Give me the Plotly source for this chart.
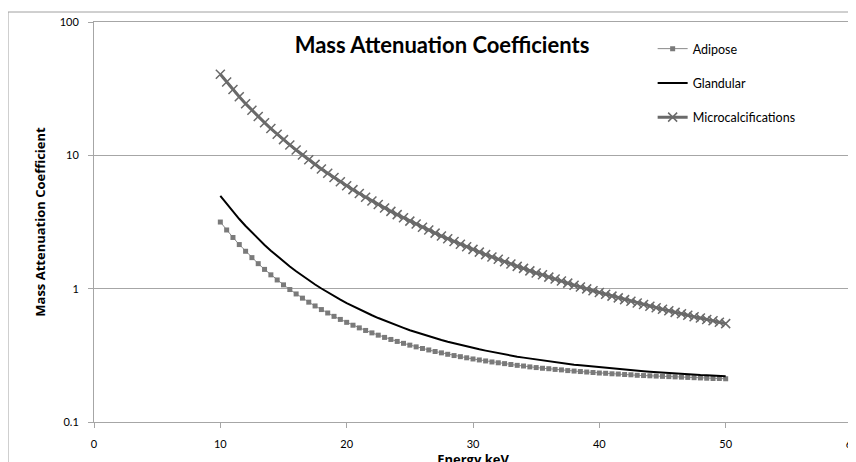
import plotly.graph_objects as go

energy_kev = [10 + 0.5 * i for i in range(81)]

adipose = [3.160, 2.755, 2.421, 2.142, 1.908, 1.709, 1.540, 1.395, 1.270, 1.162,
           1.068, 0.985, 0.913, 0.849, 0.792, 0.742, 0.697, 0.657, 0.620, 0.588,
           0.559, 0.532, 0.508, 0.486, 0.466, 0.448, 0.431, 0.416, 0.402, 0.389,
           0.377, 0.366, 0.356, 0.347, 0.338, 0.330, 0.322, 0.315, 0.309, 0.303,
           0.297, 0.292, 0.287, 0.282, 0.278, 0.274, 0.270, 0.266, 0.263, 0.259,
           0.256, 0.253, 0.251, 0.248, 0.246, 0.243, 0.241, 0.239, 0.237, 0.235,
           0.233, 0.232, 0.230, 0.229, 0.227, 0.226, 0.224, 0.223, 0.222, 0.221,
           0.220, 0.219, 0.218, 0.217, 0.216, 0.215, 0.214, 0.213, 0.212, 0.212,
           0.211]

glandular = [4.970, 4.318, 3.779, 3.330, 2.953, 2.634, 2.361, 2.128, 1.927, 1.753,
             1.601, 1.468, 1.351, 1.248, 1.157, 1.075, 1.003, 0.938, 0.880, 0.828,
             0.780, 0.738, 0.699, 0.664, 0.632, 0.602, 0.575, 0.551, 0.528, 0.508,
             0.488, 0.471, 0.454, 0.439, 0.425, 0.412, 0.400, 0.389, 0.378, 0.368,
             0.359, 0.351, 0.343, 0.335, 0.328, 0.321, 0.315, 0.309, 0.304, 0.299,
             0.294, 0.289, 0.285, 0.280, 0.277, 0.273, 0.269, 0.266, 0.263, 0.260,
             0.257, 0.254, 0.251, 0.249, 0.247, 0.244, 0.242, 0.240, 0.238, 0.236,
             0.235, 0.233, 0.231, 0.230, 0.228, 0.227, 0.225, 0.224, 0.223, 0.221,
             0.220]

microcalcifications = [40.60, 35.43, 31.12, 27.48, 24.41, 21.78, 19.53, 17.58, 15.89, 14.41,
                       13.11, 11.97, 10.96, 10.07, 9.27, 8.55, 7.91, 7.33, 6.81, 6.34,
                       5.92, 5.53, 5.17, 4.85, 4.55, 4.28, 4.03, 3.80, 3.59, 3.40,
                       3.21, 3.05, 2.89, 2.75, 2.61, 2.48, 2.37, 2.26, 2.15, 2.06,
                       1.97, 1.88, 1.80, 1.73, 1.66, 1.59, 1.53, 1.47, 1.42, 1.36,
                       1.31, 1.27, 1.22, 1.18, 1.14, 1.10, 1.06, 1.03, 0.996, 0.964,
                       0.936, 0.907, 0.879, 0.853, 0.828, 0.804, 0.782, 0.760, 0.739, 0.719,
                       0.700, 0.683, 0.664, 0.648, 0.631, 0.615, 0.602, 0.588, 0.574, 0.560,
                       0.547]

x_tick_vals = [0, 10, 20, 30, 40, 50, 60]
y_tick_vals = [0.1, 1, 10, 100]
y_tick_text = ["0.1", "1", "10", "100"]

FONT = "Lato, 'Open Sans', sans-serif"
TITLE_FONT = "'Open Sans', Lato, sans-serif"
GRID = "#a6a6a6"

fig = go.Figure()
fig.add_trace(go.Scatter(
    x=energy_kev, y=adipose, name="Adipose", mode="lines+markers",
    line=dict(color="#8a8a8a", width=1),
    marker=dict(symbol="square", size=5, color="#7a7a7a"),
    legendgroup="a"))
fig.add_trace(go.Scatter(
    x=energy_kev, y=glandular, name="Glandular", mode="lines",
    line=dict(color="#000000", width=2),
    legendgroup="g"))
fig.add_trace(go.Scatter(
    x=energy_kev, y=microcalcifications, name="Microcalcifications", mode="lines+markers",
    line=dict(color="#6a6a6a", width=3),
    marker=dict(symbol="x-thin", size=9, color="#6a6a6a",
                line=dict(color="#6a6a6a", width=1.5)),
    legendgroup="m"))

# the page body adds an 8px offset; margins compensate for it
fig.update_layout(
    width=856, height=462,
    margin=dict(l=86, r=12, t=14, b=48),
    paper_bgcolor="white", plot_bgcolor="white",
    font=dict(family=FONT, size=11, color="#000000"),
    title=dict(text="<b>Mass Attenuation Coefficients</b>", x=434 / 856, xanchor="center",
               y=1 - 37 / 462, yanchor="middle",
               font=dict(family=FONT, size=22, color="#000000")),
    legend=dict(x=0.737, y=0.97, xanchor="left", yanchor="top",
                bgcolor="rgba(0,0,0,0)", font=dict(size=12.5), tracegroupgap=15),
    showlegend=True,
)
fig.update_xaxes(
    range=[0, 60], tickvals=x_tick_vals, showgrid=False, zeroline=False,
    showline=True, linecolor=GRID, linewidth=1, mirror=True, automargin=False,
    ticks="outside", ticklen=5, tickcolor=GRID, ticklabelstandoff=7,
    title=dict(text="<b>Energy keV</b>", font=dict(family=TITLE_FONT, size=13), standoff=5),
)
fig.update_yaxes(
    type="log", range=[-1, 2], tickvals=y_tick_vals, ticktext=y_tick_text,
    showgrid=True, gridcolor=GRID, gridwidth=1, zeroline=False, automargin=False,
    showline=True, linecolor=GRID, linewidth=1,
    ticks="outside", ticklen=5, tickcolor=GRID, ticklabelstandoff=7,
    title=dict(text="<b>Mass Attenuation Coefficient</b>",
               font=dict(family=TITLE_FONT, size=13), standoff=11),
)
fig.add_shape(type="rect", xref="paper", yref="paper",
              x0=(0 - 86) / 758, x1=1.2, y0=-0.3, y1=(414 - 4) / 400,
              line=dict(color="#a0a0a0", width=1), fillcolor="rgba(0,0,0,0)", layer="below")

fig.write_html("out.html")
